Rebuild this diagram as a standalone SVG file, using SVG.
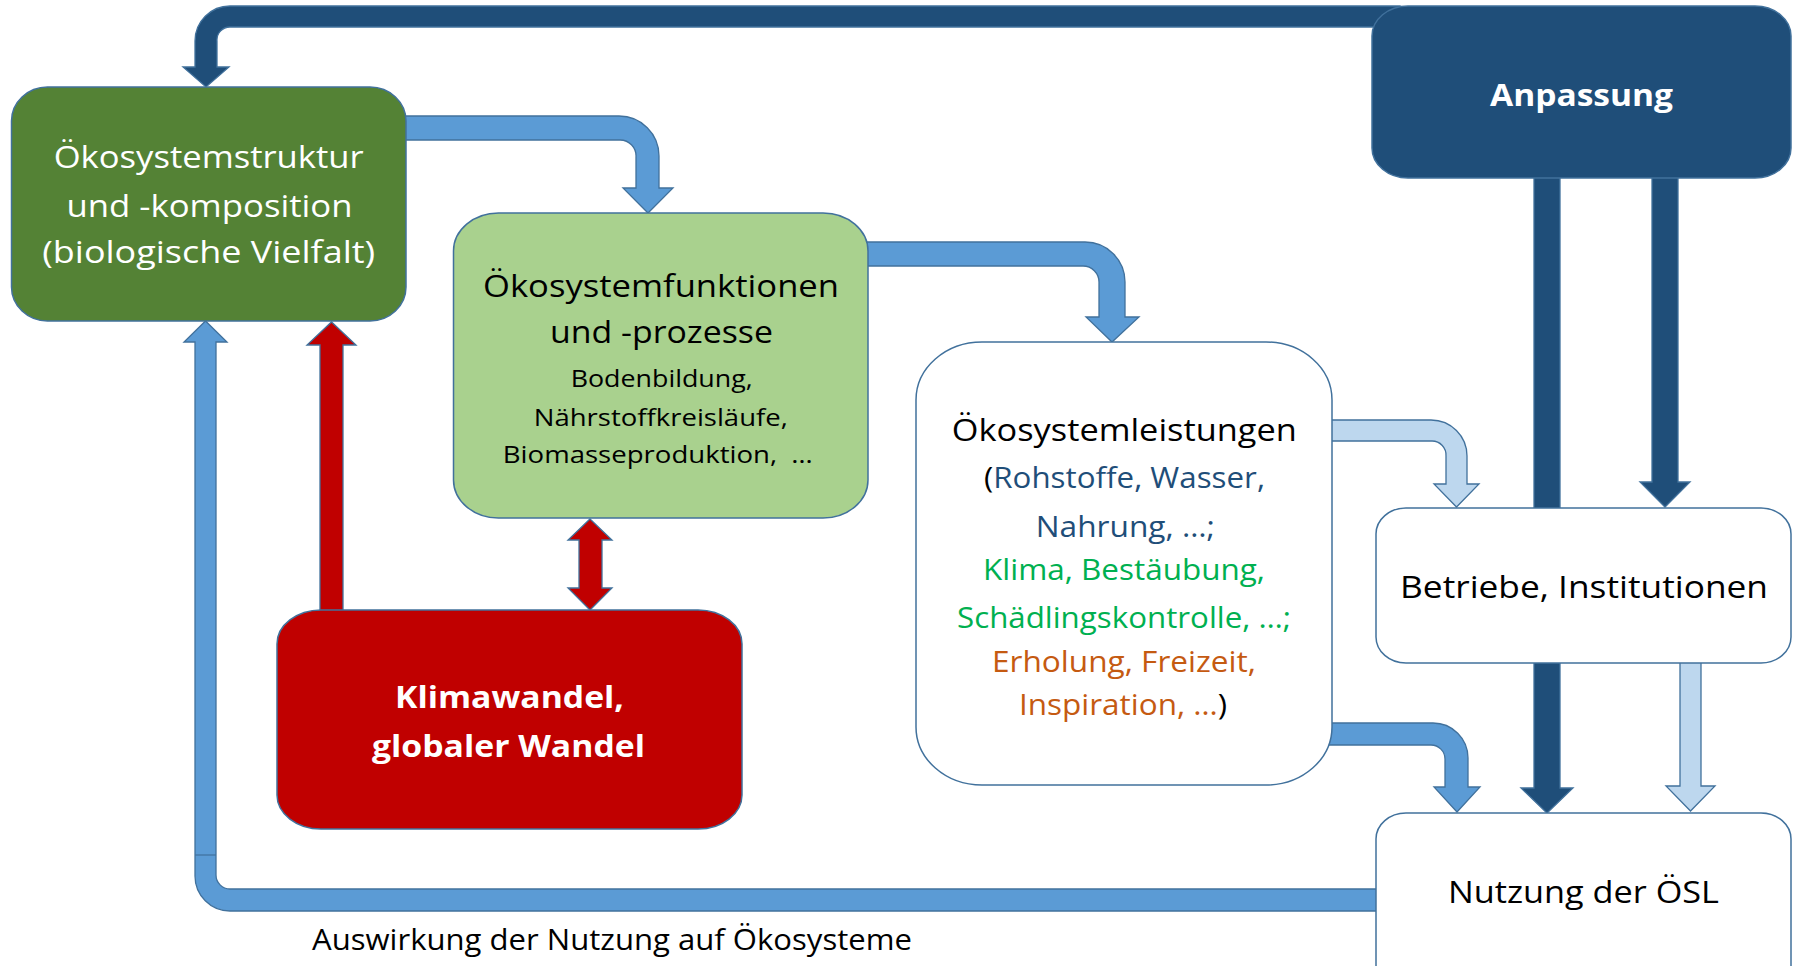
<svg xmlns="http://www.w3.org/2000/svg" width="1797" height="966" viewBox="0 0 1797 966">
  <style>
    .box { stroke: #41719C; stroke-width: 1.5; }
    .arr { stroke: #41719C; stroke-width: 1.3; stroke-linejoin: miter; }
    .dark { fill: #1F4E79; }
    .mid { fill: #5B9BD5; }
    .light { fill: #BDD7EE; }
    .red { fill: #C00000; }
    text { font-family: "Open Sans", "Noto Sans", "Liberation Sans", sans-serif; text-anchor: middle; }
    .h { font-size: 31px; }
    .s { font-size: 24.5px; }
    .d { font-size: 29px; }
    .b { font-weight: bold; }
    .w { fill: #FFFFFF; }
    .k { fill: #000000; }
    .cb { fill: #1F4E79; }
    .cg { fill: #00B050; }
    .co { fill: #C55A11; }
  </style>
  <rect x="0" y="0" width="1797" height="966" fill="#FFFFFF"/>

  <g id="connectors">
    <!-- Anpassung -> Ökosystemstruktur (top, dark) -->
    <path class="arr dark" d="M 1400 6 L 230 6 A 35 35 0 0 0 195 41 L 195 67 L 183 67 L 206 87 L 229 67 L 217 67 L 217 41 A 13 13 0 0 1 230 27 L 1400 27 Z"/>
    <!-- Struktur -> Funktionen -->
    <path class="arr mid" d="M 400 116 L 619 116 A 40 40 0 0 1 659 156 L 659 188 L 673 188 L 648 213 L 623 188 L 636 188 L 636 157 A 16 16 0 0 0 620 140 L 400 140 Z"/>
    <!-- Funktionen -> Leistungen -->
    <path class="arr mid" d="M 862 242 L 1085 242 A 40 40 0 0 1 1125 282 L 1125 317 L 1139 317 L 1112 342 L 1086 317 L 1099 317 L 1099 282 A 16 16 0 0 0 1083 266 L 862 266 Z"/>
    <!-- Leistungen -> Betriebe (light) -->
    <path class="arr light" d="M 1326 420 L 1431 420 A 36 36 0 0 1 1467 456 L 1467 484 L 1479 484 L 1456.5 507 L 1434 484 L 1446 484 L 1446 456 A 14 14 0 0 0 1432 441 L 1326 441 Z"/>
    <!-- Leistungen -> Nutzung -->
    <path class="arr mid" d="M 1326 723 L 1433 723 A 35 35 0 0 1 1468 758 L 1468 787 L 1480 787 L 1457 812 L 1434 787 L 1445 787 L 1445 759 A 14 14 0 0 0 1431 745 L 1326 745 Z"/>
    <!-- Anpassung -> Nutzung (dark, behind Betriebe) -->
    <path class="arr dark" d="M 1534 170 L 1560 170 L 1560 788 L 1573 788 L 1547 813 L 1521 788 L 1534 788 Z"/>
    <!-- Anpassung -> Betriebe (dark) -->
    <path class="arr dark" d="M 1652 170 L 1678 170 L 1678 482 L 1690 482 L 1665 507 L 1640 482 L 1652 482 Z"/>
    <!-- Betriebe -> Nutzung (light) -->
    <path class="arr light" d="M 1680 657 L 1701 657 L 1701 786 L 1715 786 L 1690.5 811 L 1666 786 L 1680 786 Z"/>
    <!-- Nutzung -> Struktur (feedback, bottom) -->
    <path class="arr mid" d="M 1382 889 L 230 889 A 14 14 0 0 1 216 875 L 216 342 L 227 342 L 205.5 321 L 184 342 L 195 342 L 195 876 A 35 35 0 0 0 230 911 L 1382 911 Z"/>
    <line x1="195" y1="855" x2="216" y2="855" stroke="#41719C" stroke-width="1.2"/>
    <!-- Klimawandel -> Struktur (red) -->
    <path class="arr red" d="M 320 615 L 320 345 L 307 345 L 331.5 322 L 356 345 L 343 345 L 343 615 Z"/>
    <!-- Klimawandel <-> Funktionen (red, double) -->
    <path class="arr red" d="M 590 519 L 612 540 L 602 540 L 602 588 L 612 588 L 590 610 L 568 588 L 579 588 L 579 540 L 568 540 Z"/>
  </g>

  <g id="node-struktur">
    <rect class="box" x="11.5" y="87" width="394.5" height="234" rx="36" ry="34" fill="#548235"/>
    <text class="h w" x="208.7" y="168" textLength="310" lengthAdjust="spacingAndGlyphs">Ökosystemstruktur</text>
    <text class="h w" x="209.5" y="217" textLength="286" lengthAdjust="spacingAndGlyphs">und -komposition</text>
    <text class="h w" x="208.7" y="263" textLength="333" lengthAdjust="spacingAndGlyphs">(biologische Vielfalt)</text>
  </g>

  <g id="node-funktionen">
    <rect class="box" x="453.5" y="213" width="414.5" height="305" rx="45" ry="38" fill="#A9D18E"/>
    <text class="h k" x="661" y="297" textLength="356" lengthAdjust="spacingAndGlyphs">Ökosystemfunktionen</text>
    <text class="h k" x="661.5" y="343" textLength="223" lengthAdjust="spacingAndGlyphs">und -prozesse</text>
    <text class="s k" x="661.7" y="387" textLength="182" lengthAdjust="spacingAndGlyphs">Bodenbildung,</text>
    <text class="s k" x="660.8" y="426" textLength="254" lengthAdjust="spacingAndGlyphs">Nährstoffkreisläufe,</text>
    <text class="s k" x="657.8" y="463" textLength="310" lengthAdjust="spacingAndGlyphs" xml:space="preserve" style="white-space:pre">Biomasseproduktion,  …</text>
  </g>

  <g id="node-leistungen">
    <rect class="box" x="916" y="342" width="416" height="443" rx="66" ry="58" fill="#FFFFFF"/>
    <text class="h k" x="1124.3" y="441" textLength="345" lengthAdjust="spacingAndGlyphs">Ökosystemleistungen</text>
    <text class="d" x="1124.5" y="488" textLength="281" lengthAdjust="spacingAndGlyphs"><tspan class="k">(</tspan><tspan class="cb">Rohstoffe, Wasser,</tspan></text>
    <text class="d cb" x="1125.3" y="537" textLength="179" lengthAdjust="spacingAndGlyphs">Nahrung, …;</text>
    <text class="d cg" x="1124" y="580" textLength="282" lengthAdjust="spacingAndGlyphs">Klima, Bestäubung,</text>
    <text class="d cg" x="1124" y="628" textLength="334" lengthAdjust="spacingAndGlyphs">Schädlingskontrolle, …;</text>
    <text class="d co" x="1124" y="672" textLength="264" lengthAdjust="spacingAndGlyphs">Erholung, Freizeit,</text>
    <text class="d" x="1123" y="715" textLength="208" lengthAdjust="spacingAndGlyphs"><tspan class="co">Inspiration, …</tspan><tspan class="k">)</tspan></text>
  </g>

  <g id="node-klimawandel">
    <rect class="box" x="277" y="610" width="465" height="219" rx="44" ry="34" fill="#C00000"/>
    <text class="h b w" x="509.5" y="708" textLength="229" lengthAdjust="spacingAndGlyphs">Klimawandel,</text>
    <text class="h b w" x="508.5" y="757" textLength="273" lengthAdjust="spacingAndGlyphs">globaler Wandel</text>
  </g>

  <g id="node-anpassung">
    <rect class="box" x="1372" y="6" width="419" height="172" rx="36" ry="30" fill="#1F4E79"/>
    <text class="h b w" x="1581.5" y="106" textLength="183" lengthAdjust="spacingAndGlyphs">Anpassung</text>
  </g>

  <g id="node-betriebe">
    <rect class="box" x="1376" y="508" width="415" height="155" rx="30" ry="26" fill="#FFFFFF"/>
    <text class="h k" x="1584" y="598" textLength="368" lengthAdjust="spacingAndGlyphs">Betriebe, Institutionen</text>
  </g>

  <g id="node-nutzung">
    <rect class="box" x="1376" y="813" width="415" height="180" rx="30" ry="26" fill="#FFFFFF"/>
    <text class="h k" x="1583.5" y="903" textLength="271" lengthAdjust="spacingAndGlyphs">Nutzung der ÖSL</text>
  </g>

  <g id="caption">
    <text class="d k" x="312" y="950" style="text-anchor:start" textLength="600" lengthAdjust="spacingAndGlyphs">Auswirkung der Nutzung auf Ökosysteme</text>
  </g>
</svg>
